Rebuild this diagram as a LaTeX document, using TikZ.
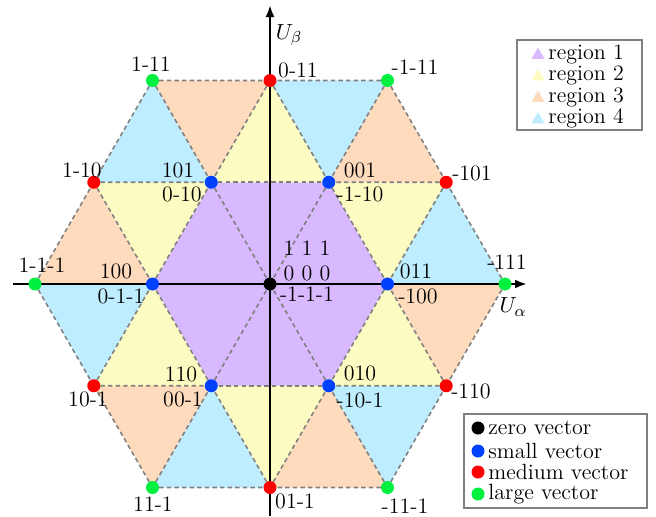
\documentclass[tikz,border=0pt]{standalone}
\usetikzlibrary{arrows.meta,shapes.geometric}
\definecolor{rone}{RGB}{216,185,255}
\definecolor{rtwo}{RGB}{252,252,194}
\definecolor{rthree}{RGB}{255,219,190}
\definecolor{rfour}{RGB}{190,237,255}
\definecolor{vzero}{RGB}{0,0,0}
\definecolor{vsmall}{RGB}{0,64,255}
\definecolor{vmed}{RGB}{255,0,0}
\definecolor{vlarge}{RGB}{0,240,64}
\begin{document}
\begin{tikzpicture}[x=0.5pt,y=0.5pt,
  edge/.style={draw=gray, dash pattern=on 2.2pt off 1.6pt, line width=0.8pt},
  axis/.style={line width=1.2pt, -{Latex[length=6pt,width=4.5pt]}},
  dot/.style={circle, inner sep=0pt, minimum size=6.5pt},
  lbl/.style={inner sep=0pt, font=\fontsize{11}{13}\selectfont},
  legbox/.style={draw=gray, line width=0.6pt},
  legtri/.style={regular polygon, regular polygon sides=3, minimum size=7.5pt, inner sep=0pt},
  legtxt/.style={anchor=west, inner sep=0pt, font=\fontsize{11}{13}\selectfont}]
\useasboundingbox (-270,-232) rectangle (386,284);
\coordinate (O) at (0,0);
\foreach \i in {0,...,5} {
  \coordinate (S\i) at ({60*\i}:117.5);
  \coordinate (M\i) at ({60*\i+30}:203.5);
  \coordinate (L\i) at ({60*\i}:235);
}
% regions
\foreach \i [evaluate=\i as \j using {int(mod(\i+1,6))}, evaluate=\i as \k using {int(mod(\i+5,6))}] in {0,...,5} {
  \fill[rone] (O) -- (S\i) -- (S\j) -- cycle;
  \fill[rtwo] (S\i) -- (S\j) -- (M\i) -- cycle;
  \fill[rfour] (S\i) -- (M\i) -- (L\i) -- cycle;
  \fill[rthree] (S\i) -- (M\k) -- (L\i) -- cycle;
}
% dashed edges
\foreach \i [evaluate=\i as \j using {int(mod(\i+1,6))}, evaluate=\i as \k using {int(mod(\i+5,6))}] in {0,...,5} {
  \draw[edge] (O) -- (S\i);
  \draw[edge] (S\i) -- (S\j);
  \draw[edge] (S\i) -- (M\i);
  \draw[edge] (S\j) -- (M\i);
  \draw[edge] (S\i) -- (L\i);
  \draw[edge] (M\i) -- (L\i);
  \draw[edge] (M\k) -- (L\i);
}
% axes
\coordinate (xa) at (-257,0);
\coordinate (xb) at (257,0);
\coordinate (ya) at (0,-232);
\coordinate (yb) at (0,279);
\draw[axis] (xa) -- (xb);
\draw[axis] (ya) -- (yb);
\node[lbl] (ualpha) at (243,-23) {$U_\alpha$};
\node[lbl] (ubeta) at (19,249) {$U_\beta$};
% dots
\node[dot, fill=vzero] (d0) at (O) {};
\foreach \i in {0,...,5} {
  \node[dot, fill=vsmall] (ds\i) at (S\i) {};
  \node[dot, fill=vmed] (dm\i) at (M\i) {};
  \node[dot, fill=vlarge] (dl\i) at (L\i) {};
}
% zero labels
\node[lbl] (z1) at (37,36) {1 1 1};
\node[lbl] (z2) at (37,11) {0 0 0};
\node[lbl] (z3) at (37,-10) {-1-1-1};
% small labels
\node[lbl] (a1) at (-92,114) {101};
\node[lbl] (a2) at (-88,90) {0-10};
\node[lbl] (b1) at (90,114) {001};
\node[lbl] (b2) at (90,90) {-1-10};
\node[lbl] (c1) at (-154,13) {100};
\node[lbl] (c2) at (-149,-12) {0-1-1};
\node[lbl] (e1) at (146,13) {011};
\node[lbl] (e2) at (148,-12) {-100};
\node[lbl] (f1) at (-89,-90) {110};
\node[lbl] (f2) at (-87,-115) {00-1};
\node[lbl] (g1) at (90,-89) {010};
\node[lbl] (g2) at (90,-116) {-10-1};
% medium labels
\node[lbl] (m1) at (28,214) {0-11};
\node[lbl] (m2) at (202,111) {-101};
\node[lbl] (m3) at (-188,114) {1-10};
\node[lbl] (m4) at (-182,-115) {10-1};
\node[lbl] (m5) at (25,-217) {01-1};
\node[lbl] (m6) at (201,-107) {-110};
% large labels
\node[lbl] (l1) at (-119,220) {1-11};
\node[lbl] (l2) at (145,217) {-1-11};
\node[lbl] (l3) at (-228,19) {1-1-1};
\node[lbl] (l4) at (237,22) {-111};
\node[lbl] (l5) at (-117,-220) {11-1};
\node[lbl] (l6) at (135,-222) {-11-1};
% legend 1
\draw[legbox, fill=white] (247,244) rectangle (372,154);
\foreach \n/\c/\y in {1/rone/230,2/rtwo/208.5,3/rthree/187,4/rfour/165.5} {
  \node[legtri, fill=\c] (rt\n) at (268,\y-1) {};
  \node[legtxt] (rl\n) at (278,\y) {region \n};
}
% legend 2
\draw[legbox, fill=white] (194,-130) rectangle (377,-224);
\foreach \n/\c/\t/\y in {1/vzero/zero vector/-144,2/vsmall/small vector/-167,3/vmed/medium vector/-188,4/vlarge/large vector/-210} {
  \node[dot, fill=\c] (vd\n) at (208,\y) {};
  \node[legtxt] (vl\n) at (218,\y) {\t};
}
\end{tikzpicture}
\end{document}
